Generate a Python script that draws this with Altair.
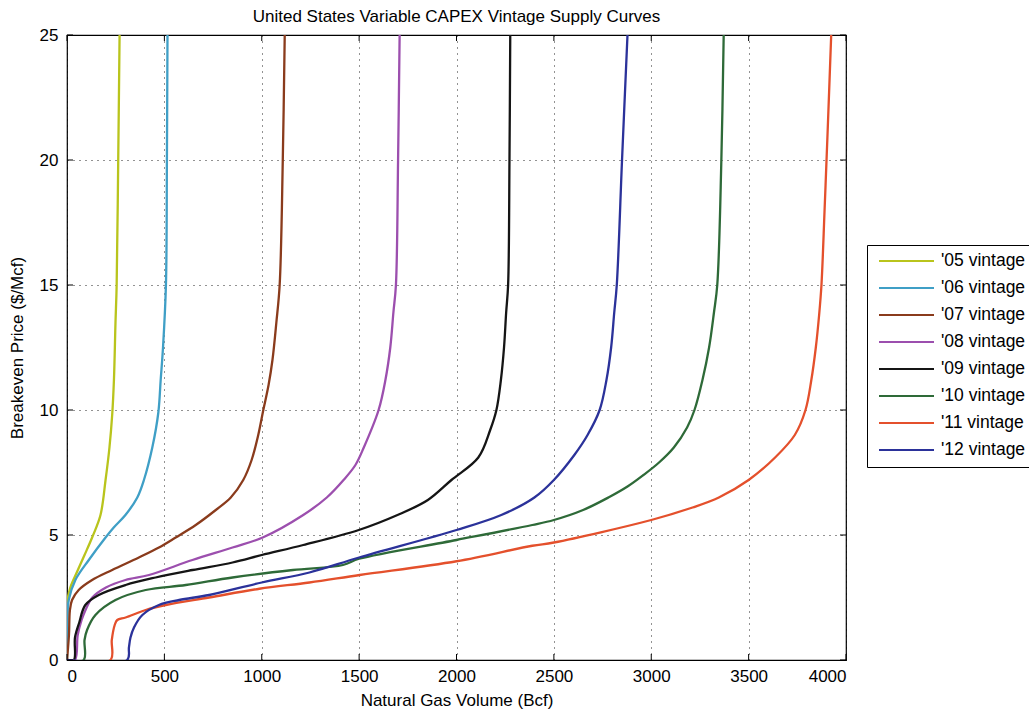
import altair as alt
import pandas as pd

# ---- data ----
x_ticks = [0, 500, 1000, 1500, 2000, 2500, 3000, 3500, 4000]
y_ticks = [0, 5, 10, 15, 20, 25]

names = ["'05 vintage", "'06 vintage", "'07 vintage", "'08 vintage",
         "'09 vintage", "'10 vintage", "'11 vintage", "'12 vintage"]
colors = ["#b9c41c", "#3f9fc6", "#8a3b1c", "#9c4fae",
          "#151515", "#2e6a38", "#e4502c", "#2b329a"]

v05_x = [0, 0, 3, 17, 50, 90, 129, 172, 198, 218, 232, 241, 249, 255, 263, 270]
v05_y = [0, 1.5, 2.4, 2.9, 3.5, 4.2, 4.9, 5.8, 7.2, 8.5, 9.8, 11.2, 13.5, 15, 20, 25]

v06_x = [0, 2, 9, 43, 112, 198, 240, 300, 361, 395, 438, 469, 481, 493, 508, 513, 516]
v06_y = [0, 1.6, 2.4, 3.2, 4.0, 4.9, 5.3, 5.8, 6.5, 7.2, 8.5, 9.9, 11.2, 12.5, 15, 20, 25]

v07_x = [0, 10, 15, 26, 60, 129, 232, 369, 472, 558, 661, 764, 841, 905, 948, 982,
         1008, 1035, 1055, 1075, 1092, 1108, 1118]
v07_y = [0, 1.0, 2.0, 2.4, 2.8, 3.2, 3.6, 4.1, 4.5, 4.9, 5.4, 6.0, 6.5, 7.2, 8.0, 9.0,
         10.0, 11.0, 12.0, 13.5, 15, 20, 25]

v08_x = [0, 40, 55, 75, 95, 130, 200, 300, 421, 644, 850, 1005, 1213, 1334, 1420,
         1481, 1524, 1600, 1635, 1660, 1676, 1689, 1700, 1708]
v08_y = [0, 0, 1.0, 1.6, 2.0, 2.5, 2.9, 3.2, 3.4, 4.0, 4.5, 4.9, 5.8, 6.5, 7.2,
         7.8, 8.5, 10.0, 11.2, 12.5, 13.9, 15, 20, 25]

v09_x = [0, 35, 41, 63, 94, 163, 301, 455, 644, 850, 1000, 1213, 1498, 1697, 1853,
         1974, 2112, 2173, 2205, 2228, 2244, 2255, 2265, 2272, 2276]
v09_y = [0, 0, 0.9, 1.5, 2.2, 2.6, 3.0, 3.3, 3.6, 3.9, 4.2, 4.6, 5.2, 5.8, 6.4,
         7.2, 8.1, 9.2, 10.0, 11.2, 12.5, 13.9, 15, 20, 25]

v10_x = [0, 86, 90, 103, 146, 249, 404, 610, 850, 1160, 1417, 1500, 2000, 2389, 2500,
         2650, 2780, 2880, 2960, 3040, 3116, 3184, 3222, 3263, 3297, 3322, 3339, 3360, 3372]
v10_y = [0, 0, 0.8, 1.2, 1.8, 2.4, 2.8, 3.0, 3.3, 3.6, 3.8, 4.05, 4.8, 5.4, 5.6,
         6.0, 6.5, 6.95, 7.4, 7.9, 8.5, 9.3, 10.0, 11.2, 12.5, 13.9, 15, 20, 25]

v11_x = [0, 223, 230, 245, 258, 301, 404, 507, 730, 988, 1245, 1503, 2000, 2389, 2500,
         3000, 3212, 3347, 3500, 3636, 3737, 3792, 3822, 3845, 3862, 3874, 3890, 3905, 3924]
v11_y = [0, 0, 0.8, 1.4, 1.6, 1.7, 2.0, 2.2, 2.5, 2.85, 3.1, 3.4, 3.95, 4.57, 4.7,
         5.6, 6.1, 6.5, 7.2, 8.1, 9.0, 10.0, 11.2, 12.5, 13.8, 15, 18, 21, 25]

v12_x = [0, 309, 318, 326, 344, 387, 472, 576, 730, 1000, 1245, 1500, 2000, 2230, 2400,
         2500, 2605, 2673, 2735, 2770, 2794, 2810, 2823, 2850, 2878]
v12_y = [0, 0, 0.5, 0.9, 1.3, 1.8, 2.2, 2.4, 2.6, 3.1, 3.5, 4.1, 5.2, 5.8, 6.5,
         7.2, 8.2, 9.0, 10.0, 11.2, 12.5, 13.9, 15, 20, 25]

series = [
    (names[0], v05_x, v05_y), (names[1], v06_x, v06_y),
    (names[2], v07_x, v07_y), (names[3], v08_x, v08_y),
    (names[4], v09_x, v09_y), (names[5], v10_x, v10_y),
    (names[6], v11_x, v11_y), (names[7], v12_x, v12_y),
]

rows = []
for k, (name, xs_, ys_) in enumerate(series):
    for i, (a, b) in enumerate(zip(xs_, ys_)):
        rows.append({"vintage": name, "k": k, "i": i, "x": a, "y": b})
df = pd.DataFrame(rows)

FONT = "Liberation Sans"
W, H = 779, 625

x_scale = alt.Scale(domain=[0, 4000], nice=False, zero=False)
y_scale = alt.Scale(domain=[0, 25], nice=False, zero=False)

x_enc = alt.X("x:Q", scale=x_scale,
              axis=alt.Axis(values=x_ticks, title="Natural Gas Volume (Bcf)",
                            labelPadding=8, titlePadding=8, format="d"))
y_enc = alt.Y("y:Q", scale=y_scale,
              axis=alt.Axis(values=y_ticks, title="Breakeven Price ($/Mcf)",
                            labelPadding=9, titlePadding=13, format="d"))

lines = alt.Chart(df).mark_line(strokeWidth=2.3, clip=True,
                                interpolate="catmull-rom").encode(
    x=x_enc,
    y=y_enc,
    color=alt.Color("vintage:N",
                    scale=alt.Scale(domain=names, range=colors),
                    legend=alt.Legend(
                        title=None, orient="none", legendX=800, legendY=210,
                        symbolType="stroke", symbolSize=3025, symbolStrokeWidth=2,
                        labelFontSize=17.5, labelFont=FONT, labelColor="black",
                        labelOffset=6, symbolOffset=3, padding=8,
                        clipHeight=16, rowPadding=9,
                        strokeColor="black", fillColor="white", labelLimit=300,
                    )),
    detail="k:N",
    order="i:Q",
)

xt = pd.DataFrame({"x": x_ticks})
yt = pd.DataFrame({"y": y_ticks})

tick_bottom = alt.Chart(xt).mark_rule(color="black", strokeWidth=1).encode(
    x=x_enc, y=alt.value(H - 6), y2=alt.value(H))
tick_top = alt.Chart(xt).mark_rule(color="black", strokeWidth=1).encode(
    x=x_enc, y=alt.value(0), y2=alt.value(6))
tick_left = alt.Chart(yt).mark_rule(color="black", strokeWidth=1).encode(
    y=y_enc, x=alt.value(0), x2=alt.value(6))
tick_right = alt.Chart(yt).mark_rule(color="black", strokeWidth=1).encode(
    y=y_enc, x=alt.value(W - 6), x2=alt.value(W))

chart = alt.layer(lines, tick_bottom, tick_top, tick_left, tick_right).properties(
    width=W, height=H,
    title=alt.TitleParams("United States Variable CAPEX Vintage Supply Curves",
                          fontSize=17, fontWeight="normal", font=FONT,
                          color="black", anchor="middle", offset=0),
    autosize=alt.AutoSizeParams(type="none"),
    padding={"left": 67, "top": 35, "right": 183, "bottom": 55},
    background="white",
).configure_view(
    stroke="black", strokeWidth=1.2
).configure_axis(
    labelFont=FONT, labelFontSize=17, labelColor="black",
    titleFont=FONT, titleFontSize=17, titleFontWeight="normal", titleColor="black",
    grid=True, gridColor="black", gridDash=[1, 5], gridOpacity=0.85, gridWidth=1,
    domain=False, ticks=False,
)

chart.save("out.html", embed_options={"renderer": "svg", "actions": False})
